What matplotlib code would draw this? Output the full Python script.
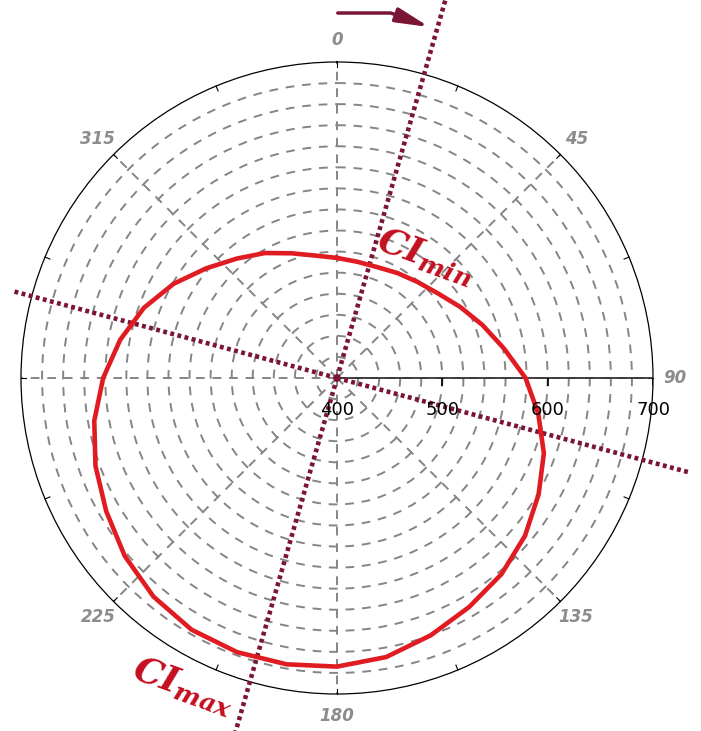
import numpy as np
import matplotlib.pyplot as plt
from matplotlib import transforms

plt.rcParams['mathtext.fontset'] = 'custom'
plt.rcParams['mathtext.it'] = 'DejaVu Serif:italic:bold'
plt.rcParams['mathtext.rm'] = 'DejaVu Serif:bold'

# polar curve, angle in degrees (clockwise from north) and radius
theta_deg = np.arange(0, 360, 10)
ci_r = [514, 512, 512, 515, 519, 525, 535, 547, 561, 579, 594, 609,
        621, 633, 643, 651, 660, 669, 674, 676, 677, 676, 671, 663,
        653, 644, 634, 622, 609, 595, 579, 562, 548, 537, 526, 518]

# directions of the min / max axis and the perpendicular axis
ci_min_dir = 16
ci_max_dir = 196
perp_dirs = [105, 285]

angle_ticks = [0, 45, 90, 135, 180, 225, 270, 315]
angle_labels = ['0', '45', '90', '135', '180', '225', '', '315']
r_min, r_max = 400, 700
r_labels = [400, 500, 600, 700]

red = '#e01b22'
dark_red = '#c41020'
maroon = '#7b1535'
grey = '#858585'

fig = plt.figure(figsize=(7.01, 7.31), dpi=100)
ax = fig.add_axes([21 / 701, 37 / 731, 632 / 701, 632 / 731], projection='polar')
ax.set_theta_zero_location('N')
ax.set_theta_direction(-1)
ax.set_rlim(r_min, r_max)

ax.set_yticks(np.arange(420, 700, 20))
ax.set_yticklabels([])
ax.set_thetagrids(angle_ticks, angle_labels, fontsize=12, color='#8c8c8c',
                  fontstyle='italic', fontweight='bold')
ax.tick_params(axis='x', pad=9, length=0)
ax.grid(True, color=grey, linestyle=(0, (4.5, 4)), linewidth=1.4)
ax.spines['polar'].set_linewidth(0.9)
ax.spines['polar'].set_color('black')

# small ticks on the outer circle
for a in np.arange(0, 360, 22.5):
    ax.plot([np.radians(a)] * 2, [695, 700], color='black', lw=0.8, clip_on=False)

# radial axis drawn solid along 90 deg
ax.plot([np.pi / 2] * 2, [r_min, r_max], color='#333333', lw=1.3, zorder=3)
ax.plot(np.full(3, np.pi / 2), r_labels[1:], ls='none', marker=3, ms=6,
        mew=1.2, color='black', zorder=3)
trans = transforms.offset_copy(ax.transData, fig=fig, y=-32, units='dots')
for r in r_labels:
    ax.text(np.pi / 2, r, str(r), transform=trans, ha='center', va='center',
            fontsize=13, color='black', zorder=6)

# dotted min/max axis and its perpendicular
for a, r_end in [(ci_min_dir, 780), (ci_max_dir, 780),
                 (perp_dirs[0], 746), (perp_dirs[1], 720)]:
    ax.plot([np.radians(a)] * 2, [r_min, r_end], color=maroon, lw=3.3,
            linestyle=(0, (0.85, 0.75)), clip_on=False, zorder=4)

# the curve itself
th = np.radians(np.append(theta_deg, theta_deg[0]))
rr = np.append(ci_r, ci_r[0])
ax.plot(th, rr, color=red, lw=3.3, zorder=5, clip_on=False)

ax.text(np.radians(36), 542, r'$CI_{min}$', rotation=-20, fontsize=26,
        color=dark_red, ha='center', va='center', zorder=6)
ax.text(np.radians(206.5), 727, r'$CI_{max}$', rotation=-20, fontsize=26,
        color=dark_red, ha='center', va='center', zorder=6)

# rotation arrow at the top
ax.annotate('', xy=(432, 703), xytext=(335, 718),
            xycoords='figure pixels', textcoords='figure pixels',
            arrowprops=dict(arrowstyle='-|>,head_length=1.0,head_width=0.22',
                            connectionstyle='angle,angleA=0,angleB=160,rad=0',
                            color=maroon, lw=2.5, mutation_scale=20),
            annotation_clip=False)

fig.savefig('out.png', dpi=100, facecolor='white')
